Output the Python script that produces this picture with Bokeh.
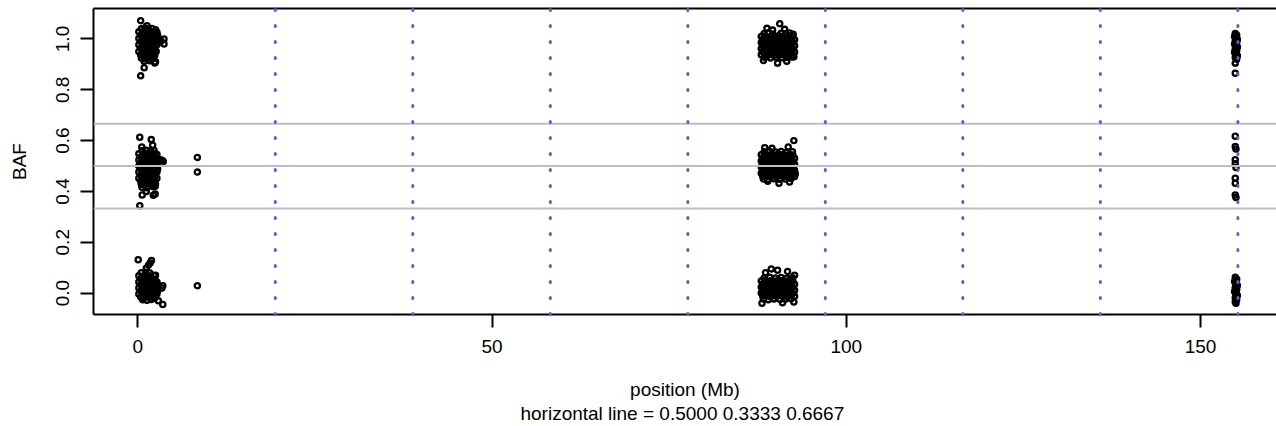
from bokeh.plotting import figure
from bokeh.models import Range1d, LinearAxis, FixedTicker, PrintfTickFormatter, Span
from bokeh.embed import file_html
from bokeh.resources import INLINE

# ---------------- data ----------------
X_TICKS = [0, 50, 100, 150]
Y_TICKS = [0.0, 0.2, 0.4, 0.6, 0.8, 1.0]
H_LINES = [0.5, 0.3333, 0.6667]
V_LINES = [19.41, 38.82, 58.23, 77.64, 97.04, 116.45, 135.86, 155.27]
X_LABEL = "position (Mb)"
SUBTITLE = "horizontal line =  0.5000 0.3333 0.6667"
Y_LABEL = "BAF"

A_TOP_X = [0.5, 1.0, 1.5, 2.0, 2.5,
           0.15, 0.7, 1.1, 1.5, 1.9, 2.3, 2.7,
           0.4, 0.8, 1.2, 1.6, 2.0, 2.4, 2.8,
           0.15, 0.7, 1.1, 1.5, 1.9, 2.3, 2.7, 3.0,
           0.4, 0.8, 1.2, 1.6, 2.0, 2.4, 2.8,
           0.15, 0.7, 1.1, 1.5, 1.9, 2.3, 2.7,
           0.4, 0.8, 1.2, 1.6, 2.0, 2.4,
           0.15, 0.7, 1.1, 1.5, 1.9, 2.3, 2.6,
           0.4, 0.8, 1.2, 1.6, 2.0, 2.4,
           0.5, 0.9, 1.3, 1.8, 2.2,
           0.9, 1.7, 2.5,
           0.4, 0.4, 0.9, 3.7, 3.7, 2.4, 3.3, 1.3]
A_TOP_Y = [1.040, 1.043, 1.038, 1.041, 1.036,
           1.028, 1.026, 1.030, 1.027, 1.029, 1.025, 1.027,
           1.015, 1.013, 1.017, 1.014, 1.016, 1.012, 1.015,
           1.002, 1.000, 1.004, 1.001, 1.003, 0.999, 1.002, 1.000,
           0.990, 0.988, 0.992, 0.989, 0.991, 0.987, 0.990,
           0.977, 0.975, 0.979, 0.976, 0.978, 0.974, 0.977,
           0.964, 0.962, 0.966, 0.963, 0.965, 0.961,
           0.951, 0.949, 0.953, 0.950, 0.952, 0.948, 0.951,
           0.938, 0.936, 0.940, 0.937, 0.939, 0.935,
           0.925, 0.923, 0.927, 0.924, 0.926,
           0.912, 0.914, 0.910,
           1.072, 0.855, 0.887, 1.000, 0.980, 0.905, 0.992, 1.052]

A_MID_X = [0.6, 1.2, 1.8, 2.3,
           0.15, 0.8, 1.3, 1.8, 2.3, 2.7,
           0.4, 0.9, 1.4, 1.9, 2.4,
           0.15, 0.7, 1.1, 1.5, 1.9, 2.3, 2.7,
           0.4, 0.8, 1.2, 1.6, 2.0, 2.4, 2.8,
           0.15, 0.7, 1.1, 1.5, 1.9, 2.3, 2.7,
           0.4, 0.8, 1.2, 1.6, 2.0, 2.4, 2.8,
           0.15, 0.7, 1.1, 1.5, 1.9, 2.3, 2.7,
           0.4, 0.8, 1.2, 1.6, 2.0, 2.4,
           0.15, 0.7, 1.1, 1.5, 1.9, 2.3, 2.7,
           0.4, 0.8, 1.2, 1.6, 2.0, 2.4,
           0.5, 1.0, 1.5, 2.0, 2.5,
           0.6, 1.3, 2.2,
           0.28, 1.9, 0.55, 2.1, 3.45, 3.6, 3.2, 0.62, 2.19, 2.45, 2.45, 0.28, 8.4, 8.4, 1.2]
A_MID_Y = [0.560, 0.562, 0.559, 0.561,
           0.548, 0.546, 0.550, 0.547, 0.549, 0.545,
           0.536, 0.534, 0.538, 0.535, 0.537,
           0.524, 0.522, 0.526, 0.523, 0.525, 0.521, 0.524,
           0.512, 0.510, 0.514, 0.511, 0.513, 0.509, 0.512,
           0.500, 0.498, 0.502, 0.499, 0.501, 0.497, 0.500,
           0.488, 0.486, 0.490, 0.487, 0.489, 0.485, 0.488,
           0.476, 0.474, 0.478, 0.475, 0.477, 0.473, 0.476,
           0.464, 0.462, 0.466, 0.463, 0.465, 0.461,
           0.452, 0.450, 0.454, 0.451, 0.453, 0.449, 0.452,
           0.440, 0.438, 0.442, 0.439, 0.441, 0.437,
           0.428, 0.426, 0.430, 0.427, 0.429,
           0.416, 0.414, 0.418,
           0.613, 0.604, 0.575, 0.582, 0.522, 0.518, 0.525, 0.386, 0.385, 0.390, 0.420, 0.344, 0.534, 0.476, 0.400]

A_BOT_X = [0.5, 1.1, 1.7,
           0.15, 0.8, 1.3, 1.8, 2.3,
           0.4, 0.8, 1.2, 1.6, 2.0, 2.4,
           0.15, 0.7, 1.1, 1.5, 1.9, 2.3, 2.7,
           0.4, 0.8, 1.2, 1.6, 2.0, 2.4, 2.8,
           0.15, 0.7, 1.1, 1.5, 1.9, 2.3, 2.7,
           0.4, 0.8, 1.2, 1.6, 2.0, 2.4, 2.8,
           0.15, 0.7, 1.1, 1.5, 1.9, 2.3, 2.7,
           0.4, 0.8, 1.2, 1.6, 2.0, 2.4,
           0.7, 1.3, 1.9,
           0.06, 1.93, 1.5, 1.2, 1.75, 2.5, 3.53, 3.4, 3.53, 8.4, 2.9]
A_BOT_Y = [0.080, 0.082, 0.079,
           0.068, 0.066, 0.070, 0.067, 0.069,
           0.056, 0.054, 0.058, 0.055, 0.057, 0.053,
           0.044, 0.042, 0.046, 0.043, 0.045, 0.041, 0.044,
           0.032, 0.030, 0.034, 0.031, 0.033, 0.029, 0.032,
           0.020, 0.018, 0.022, 0.019, 0.021, 0.017, 0.020,
           0.008, 0.006, 0.010, 0.007, 0.009, 0.005, 0.008,
           -0.004, -0.006, -0.002, -0.005, -0.003, -0.007, -0.004,
           -0.016, -0.018, -0.014, -0.017, -0.015, -0.019,
           -0.026, -0.028, -0.025,
           0.131, 0.128, 0.110, 0.098, 0.118, 0.070, 0.029, 0.020, -0.045, 0.029, -0.030]

B_TOP_X = [88.4, 89.0, 89.6, 90.8, 91.4, 92.0, 92.5,
           88.0, 88.45, 88.95, 89.45, 89.95, 90.45, 90.95, 91.45, 91.95, 92.45,
           88.2, 88.7, 89.2, 89.7, 90.2, 90.7, 91.2, 91.7, 92.2, 92.7,
           88.0, 88.45, 88.95, 89.45, 89.95, 90.45, 90.95, 91.45, 91.95, 92.45,
           88.2, 88.7, 89.2, 89.7, 90.2, 90.7, 91.2, 91.7, 92.2, 92.7,
           88.0, 88.45, 88.95, 89.45, 89.95, 90.45, 90.95, 91.45, 91.95, 92.45,
           88.2, 88.7, 89.2, 89.7, 90.2, 90.7, 91.2, 91.7, 92.2, 92.7,
           88.0, 88.45, 88.95, 89.45, 89.95, 90.45, 90.95, 91.45, 91.95, 92.45,
           88.5, 89.3, 90.1, 90.9, 91.7, 92.4,
           90.6, 88.8, 89.6, 91.3, 91.6, 90.3, 88.3, 92.6]
B_TOP_Y = [1.022, 1.024, 1.020, 1.023, 1.021, 1.024, 1.019,
           1.010, 1.012, 1.008, 1.011, 1.009, 1.013, 1.010, 1.008, 1.012, 1.009,
           0.998, 1.000, 0.996, 0.999, 0.997, 1.001, 0.998, 0.996, 1.000, 0.997,
           0.986, 0.988, 0.984, 0.987, 0.985, 0.989, 0.986, 0.984, 0.988, 0.985,
           0.974, 0.976, 0.972, 0.975, 0.973, 0.977, 0.974, 0.972, 0.976, 0.973,
           0.962, 0.964, 0.960, 0.963, 0.961, 0.965, 0.962, 0.960, 0.964, 0.961,
           0.950, 0.952, 0.948, 0.951, 0.949, 0.953, 0.950, 0.948, 0.952, 0.949,
           0.938, 0.940, 0.936, 0.939, 0.937, 0.941, 0.938, 0.936, 0.940, 0.937,
           0.927, 0.925, 0.928, 0.926, 0.927, 0.929,
           1.060, 1.042, 1.035, 1.038, 0.912, 0.905, 0.915, 0.930]

B_MID_X = [88.4, 89.2, 90.0, 90.8, 91.6, 92.4,
           88.0, 88.45, 88.95, 89.45, 89.95, 90.45, 90.95, 91.45, 91.95, 92.45,
           88.2, 88.7, 89.2, 89.7, 90.2, 90.7, 91.2, 91.7, 92.2, 92.7,
           88.0, 88.45, 88.95, 89.45, 89.95, 90.45, 90.95, 91.45, 91.95, 92.45,
           88.2, 88.7, 89.2, 89.7, 90.2, 90.7, 91.2, 91.7, 92.2, 92.7,
           88.0, 88.45, 88.95, 89.45, 89.95, 90.45, 90.95, 91.45, 91.95, 92.45,
           88.2, 88.7, 89.2, 89.7, 90.2, 90.7, 91.2, 91.7, 92.2, 92.7,
           88.0, 88.45, 88.95, 89.45, 89.95, 90.45, 90.95, 91.45, 91.95, 92.45,
           88.2, 88.7, 89.2, 89.7, 90.2, 90.7, 91.2, 91.7, 92.2, 92.7,
           88.3, 89.0, 89.8, 90.6, 91.4, 92.2,
           92.6, 88.5, 89.5, 91.8, 90.5, 92.0, 88.9, 92.8]
B_MID_Y = [0.556, 0.558, 0.555, 0.557, 0.554, 0.556,
           0.544, 0.546, 0.542, 0.545, 0.543, 0.547, 0.544, 0.542, 0.546, 0.543,
           0.532, 0.534, 0.530, 0.533, 0.531, 0.535, 0.532, 0.530, 0.534, 0.531,
           0.520, 0.522, 0.518, 0.521, 0.519, 0.523, 0.520, 0.518, 0.522, 0.519,
           0.508, 0.510, 0.506, 0.509, 0.507, 0.511, 0.508, 0.506, 0.510, 0.507,
           0.496, 0.498, 0.494, 0.497, 0.495, 0.499, 0.496, 0.494, 0.498, 0.495,
           0.484, 0.486, 0.482, 0.485, 0.483, 0.487, 0.484, 0.482, 0.486, 0.483,
           0.472, 0.474, 0.470, 0.473, 0.471, 0.475, 0.472, 0.470, 0.474, 0.471,
           0.460, 0.462, 0.458, 0.461, 0.459, 0.463, 0.460, 0.458, 0.462, 0.459,
           0.449, 0.447, 0.450, 0.448, 0.449, 0.451,
           0.600, 0.572, 0.570, 0.575, 0.432, 0.437, 0.440, 0.470]

B_BOT_X = [88.4, 89.2, 90.0, 90.8, 91.6, 92.4,
           88.0, 88.45, 88.95, 89.45, 89.95, 90.45, 90.95, 91.45, 91.95, 92.45,
           88.2, 88.7, 89.2, 89.7, 90.2, 90.7, 91.2, 91.7, 92.2, 92.7,
           88.0, 88.45, 88.95, 89.45, 89.95, 90.45, 90.95, 91.45, 91.95, 92.45,
           88.2, 88.7, 89.2, 89.7, 90.2, 90.7, 91.2, 91.7, 92.2, 92.7,
           88.0, 88.45, 88.95, 89.45, 89.95, 90.45, 90.95, 91.45, 91.95, 92.45,
           88.2, 88.7, 89.2, 89.7, 90.2, 90.7, 91.2, 91.7, 92.2, 92.7,
           88.3, 89.0, 89.8, 90.6, 91.4, 92.2,
           89.4, 90.3, 91.7, 88.6, 92.7, 88.1, 91.0, 92.6]
B_BOT_Y = [0.060, 0.062, 0.059, 0.061, 0.058, 0.060,
           0.048, 0.050, 0.046, 0.049, 0.047, 0.051, 0.048, 0.046, 0.050, 0.047,
           0.036, 0.038, 0.034, 0.037, 0.035, 0.039, 0.036, 0.034, 0.038, 0.035,
           0.024, 0.026, 0.022, 0.025, 0.023, 0.027, 0.024, 0.022, 0.026, 0.023,
           0.012, 0.014, 0.010, 0.013, 0.011, 0.015, 0.012, 0.010, 0.014, 0.011,
           0.000, 0.002, -0.002, 0.001, -0.001, 0.003, 0.000, -0.002, 0.002, -0.001,
           -0.012, -0.010, -0.014, -0.011, -0.013, -0.009, -0.012, -0.014, -0.010, -0.013,
           -0.024, -0.026, -0.023, -0.025, -0.024, -0.022,
           0.095, 0.090, 0.085, 0.080, 0.070, -0.040, -0.038, -0.035]

C_TOP_X = [154.9, 155.1, 154.8, 155.0, 155.2, 154.9, 155.1, 154.8, 155.0, 155.2,
           154.9, 155.1, 154.8, 155.0, 155.2, 154.9, 155.1, 154.9, 154.9]
C_TOP_Y = [1.022, 1.016, 1.010, 1.004, 0.998, 0.992, 0.986, 0.980, 0.974, 0.968,
           0.962, 0.955, 0.948, 0.941, 0.934, 0.927, 0.920, 0.905, 0.865]

C_MID_X = [154.9, 154.9, 155.0, 154.9, 154.9, 155.0, 154.9, 154.9, 154.9, 155.0]
C_MID_Y = [0.617, 0.577, 0.567, 0.525, 0.509, 0.494, 0.452, 0.432, 0.386, 0.376]

C_BOT_X = [154.9, 155.1, 154.8, 155.0, 155.2, 154.9, 155.1, 154.8, 155.0, 155.2,
           154.9, 155.1, 154.9, 155.0]
C_BOT_Y = [0.062, 0.054, 0.046, 0.038, 0.030, 0.022, 0.014, 0.006, -0.002, -0.010,
           -0.018, -0.026, -0.034, -0.040]

# axis limits
X_START, X_END = -6.25, 160.72
Y_START, Y_END = -0.0844, 1.120

FONT = "Liberation Sans"
FS = "19px"

# ---------------- figure ----------------
p = figure(width=1276, height=426, output_backend="svg", toolbar_location=None,
           x_range=Range1d(X_START, X_END), y_range=Range1d(Y_START, Y_END),
           x_axis_type=None, y_axis_type=None,
           min_border_left=93, min_border_right=0, min_border_top=8, min_border_bottom=0)
p.outline_line_color = None
p.background_fill_color = "white"
p.border_fill_color = "white"

xs = A_TOP_X + A_MID_X + A_BOT_X + B_TOP_X + B_MID_X + B_BOT_X + C_TOP_X + C_MID_X + C_BOT_X
ys = A_TOP_Y + A_MID_Y + A_BOT_Y + B_TOP_Y + B_MID_Y + B_BOT_Y + C_TOP_Y + C_MID_Y + C_BOT_Y
p.scatter(xs, ys, marker="circle", size=5.2, fill_color=None, line_color="black", line_width=2.3)

for h in H_LINES:
    p.add_layout(Span(location=h, dimension="width", line_color="#BEBEBE", line_width=2))

vr = p.segment(x0=V_LINES, y0=[Y_START] * len(V_LINES), x1=V_LINES, y1=[Y_END] * len(V_LINES),
               line_color="#4169E1", line_width=3, line_dash="1 15", line_cap="round")
vr.level = "overlay"

def style(ax):
    ax.major_label_text_font = FONT
    ax.major_label_text_font_size = FS
    ax.major_label_text_color = "black"
    ax.axis_label_text_font = FONT
    ax.axis_label_text_font_size = FS
    ax.axis_label_text_font_style = "normal"
    ax.axis_label_text_color = "black"
    ax.axis_line_width = 2
    ax.axis_line_color = "black"
    ax.major_tick_line_width = 2
    ax.major_tick_line_color = "black"
    ax.major_tick_in = 0
    ax.minor_tick_in = 0
    ax.minor_tick_out = 0

xa = LinearAxis(ticker=FixedTicker(ticks=X_TICKS), formatter=PrintfTickFormatter(format="%d"),
                axis_label=X_LABEL)
style(xa)
xa.major_tick_out = 13
xa.major_label_standoff = 12
xa.axis_label_standoff = 23
p.add_layout(xa, "below")

sub = LinearAxis(ticker=FixedTicker(ticks=[]), axis_label=SUBTITLE)
style(sub)
sub.axis_line_color = None
sub.major_tick_out = 0
sub.major_label_standoff = 0
sub.axis_label_standoff = 0
p.add_layout(sub, "below")

top = LinearAxis(ticker=FixedTicker(ticks=[]))
style(top)
top.major_tick_out = 0
top.major_label_standoff = 0
top.axis_label_standoff = 0
p.add_layout(top, "above")

ya = LinearAxis(ticker=FixedTicker(ticks=Y_TICKS), formatter=PrintfTickFormatter(format="%.1f"),
                axis_label=Y_LABEL, major_label_orientation="parallel")
style(ya)
ya.major_tick_out = 13
ya.major_label_standoff = 11
ya.axis_label_standoff = 24
p.add_layout(ya, "left")

open("out.html", "w").write(file_html(p, INLINE))
